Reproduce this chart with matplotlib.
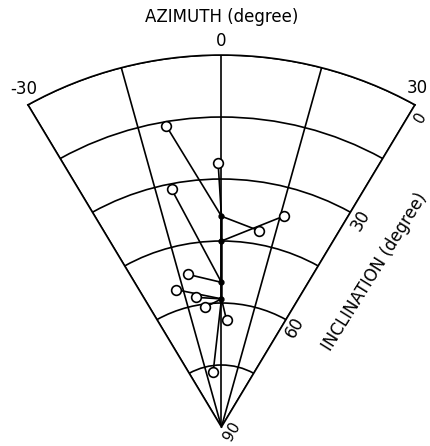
import numpy as np
import matplotlib.pyplot as plt

plt.rcParams['font.family'] = ['DejaVu Sans']

# filled points on the 0 deg azimuth line (inclination, degree)
base_inc = [39, 45, 55, 59]

# open circles: azimuth (degree), inclination (degree), index of base point
circ_az = [-10, -0.7, -11.4, 15.8, 10.4, -11.8, -17.7, -10.5, -7.6, 2.7, -8.3]
circ_inc = [16, 26, 31.3, 37, 41.7, 52.3, 55.1, 58.1, 60.8, 64.2, 76.6]
circ_base = [0, 0, 2, 1, 0, 2, 3, 3, 3, 3, 3]

az_ticks = [-30, -15, 0, 15, 30]
inc_ticks = [0, 15, 30, 45, 60, 75, 90]

fig = plt.figure(figsize=(4.30, 4.46), dpi=100)
ax = fig.add_axes([0.065, 0.0426, 0.90, 0.834], projection='polar')
ax.set_theta_zero_location('N')
ax.set_theta_direction(-1)
ax.set_thetamin(-30)
ax.set_thetamax(30)
ax.set_rlim(0, 90)
ax.set_aspect('auto')

# radius = 90 - inclination, so inclination 0 is the outer arc
ax.set_xticks(np.radians(az_ticks))
ax.set_yticks([90 - v for v in inc_ticks])
ax.set_xticklabels([])
ax.set_yticklabels([])
ax.tick_params(length=0)
ax.grid(True, color='black', linewidth=1.2, linestyle='-')
for s in ax.spines.values():
    s.set_color('black')
    s.set_linewidth(1.2)

# base line through filled points
base_r = [90 - v for v in base_inc]
ax.plot([0] * len(base_r), base_r, color='black', lw=1.8, zorder=3)

for a, i, b in zip(circ_az, circ_inc, circ_base):
    ax.plot([np.radians(a), 0], [90 - i, base_r[b]], color='black', lw=1.2, zorder=3)

ax.plot([0] * len(base_r), base_r, 'o', color='black', ms=3.5, zorder=5)
ax.plot(np.radians(circ_az), [90 - v for v in circ_inc], 'o', ms=7,
        mfc='white', mec='black', mew=1.2, zorder=6)

# azimuth labels
ax.text(np.radians(0), 93.5, '0', ha='center', va='center', fontsize=12)
ax.text(np.radians(-29.3), 93.8, '-30', ha='center', va='center', fontsize=12)
ax.text(np.radians(29.0), 93.8, '30', ha='center', va='center', fontsize=12)
fig.text(0.516, 0.962, 'AZIMUTH (degree)', ha='center', va='center', fontsize=12)

# inclination labels
ax.text(np.radians(31.8), 88.0, '0', ha='center', va='center', fontsize=11, rotation=60)
ax.text(np.radians(33), 59.5, '30', ha='center', va='center', fontsize=12, rotation=60)
ax.text(np.radians(35.5), 29.5, '60', ha='center', va='center', fontsize=12, rotation=60)
ax.text(np.radians(112), 2.6, '90', ha='center', va='center', fontsize=11, rotation=60)
ax.text(np.radians(43.5), 51.7, 'INCLINATION (degree)', ha='center', va='center',
        fontsize=12, rotation=58)

fig.savefig('out.png', dpi=100)
